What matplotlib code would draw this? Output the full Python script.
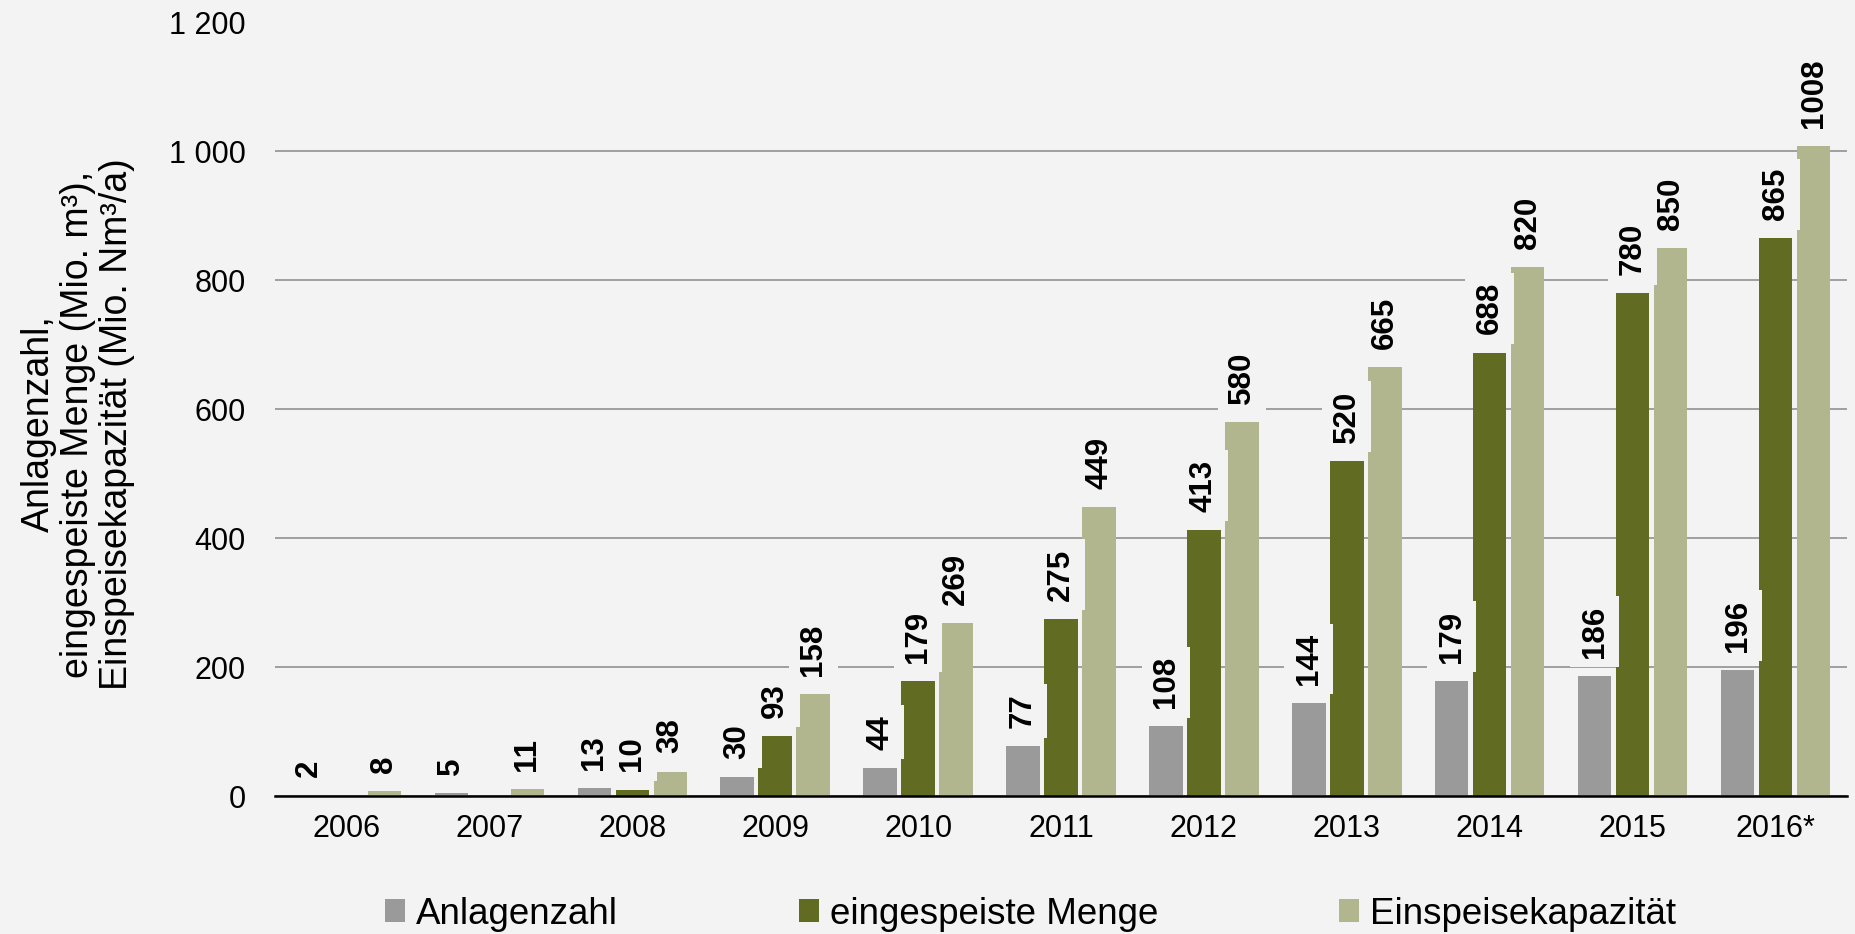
import numpy as np
import matplotlib
matplotlib.use("Agg")
import matplotlib.pyplot as plt
from matplotlib.patches import Patch

# data
years = ["2006", "2007", "2008", "2009", "2010", "2011", "2012", "2013", "2014", "2015", "2016*"]
anlagenzahl = [2, 5, 13, 30, 44, 77, 108, 144, 179, 186, 196]
menge = [np.nan, np.nan, 10, 93, 179, 275, 413, 520, 688, 780, 865]
kapazitaet = [8, 11, 38, 158, 269, 449, 580, 665, 820, 850, 1008]
series_names = ["Anlagenzahl", "eingespeiste Menge", "Einspeisekapazität"]
y_ticks = [0, 200, 400, 600, 800, 1000, 1200]
y_ticklabels = ["0", "200", "400", "600", "800", "1 000", "1 200"]
y_label = "Anlagenzahl,\neingespeiste Menge (Mio. m³),\nEinspeisekapazität (Mio. Nm³/a)"

colors = ["#9a9a9a", "#626b22", "#b1b68e"]
bg = "#f3f3f3"

plt.rcParams["font.family"] = ["Liberation Sans", "DejaVu Sans"]

fig = plt.figure(figsize=(18.56, 9.34), dpi=100, facecolor=bg)
ax = fig.add_axes([275 / 1856, 1 - 796 / 934, (1847 - 275) / 1856, (796 - 22.5) / 934])
ax.set_facecolor(bg)

x = np.arange(len(years))
pitch = 0.266
width = 0.234

for i, (vals, col) in enumerate(zip([anlagenzahl, menge, kapazitaet], colors)):
    pos = x + (i - 1) * pitch
    vals = np.array(vals, dtype=float)
    ax.bar(pos, np.nan_to_num(vals), width=width, color=col, zorder=2)
    for xp, v in zip(pos, vals):
        if np.isnan(v):
            continue
        # value label, its box in the background colour hides grid and bar edges
        ax.annotate(f"{int(v)}", xy=(xp, v), xytext=(0, 13), textcoords="offset points",
                    rotation=90, ha="center", va="bottom", fontsize=22.5, fontweight="bold",
                    zorder=3,
                    bbox=dict(boxstyle="square,pad=0.3", facecolor=bg, edgecolor="none"))

ax.set_xlim(-0.5, len(years) - 0.5)
ax.set_ylim(0, 1200)
ax.set_yticks(y_ticks)
ax.set_yticklabels(y_ticklabels)
ax.set_xticks(x)
ax.set_xticklabels(years)
ax.tick_params(axis="both", length=0, labelsize=22)
ax.tick_params(axis="y", pad=21)
ax.tick_params(axis="x", pad=13)
ax.grid(axis="y", color="#888888", linewidth=1.1, zorder=0)
ax.set_axisbelow(True)
for s in ["top", "right", "left"]:
    ax.spines[s].set_visible(False)
ax.spines["bottom"].set_color("black")
ax.spines["bottom"].set_linewidth(1.8)
ax.spines["bottom"].set_zorder(4)

fig.text(78 / 1856, 1 - 424 / 934, y_label, rotation=90, ha="center", va="center",
         multialignment="center", fontsize=27, linespacing=1.12)

handles = [Patch(facecolor=c, edgecolor="none") for c in colors]
fig.legend(handles, series_names, loc="center left", bbox_to_anchor=(385 / 1856, 1 - 914 / 934),
           ncol=3, frameon=False, fontsize=26.5, handlelength=0.55, handleheight=0.55,
           handletextpad=0.3, columnspacing=4.9, borderpad=0, borderaxespad=0)

fig.savefig("out.png", dpi=100, facecolor=bg)
